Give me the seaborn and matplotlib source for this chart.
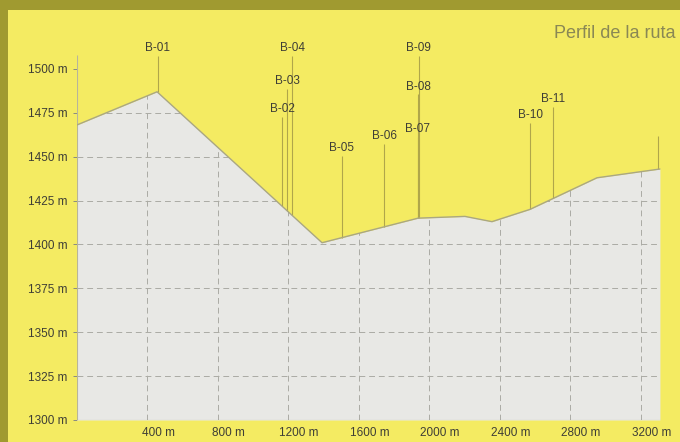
import numpy as np
import matplotlib
matplotlib.use("Agg")
import matplotlib.pyplot as plt
import matplotlib.transforms as mtransforms
from matplotlib.patches import Rectangle
import seaborn as sns

# route profile (distance in m, elevation in m)
dist_m = [0, 457, 1393, 1938, 2204, 2357, 2573, 2953, 3310]
elev_m = [1468, 1487, 1401, 1415, 1416, 1413, 1420, 1438, 1443]

# waypoint markers
mark_names = ["B-01", "B-02", "B-03", "B-04", "B-05", "B-06",
              "B-07", "B-08", "B-09", "B-10", "B-11"]
mark_dist = [460, 1166, 1194, 1223, 1506, 1745, 1935, 1938, 1941, 2573, 2704]
label_elev = [1512, 1477, 1493, 1512, 1455, 1462, 1466, 1490, 1512, 1474, 1483]

x_ticks = [400, 800, 1200, 1600, 2000, 2400, 2800, 3200]
x_labels = ["400 m", "800 m", "1200 m", "1600 m", "2000 m", "2400 m", "2800 m", "3200 m"]
y_ticks = [1300, 1325, 1350, 1375, 1400, 1425, 1450, 1475, 1500]
y_labels = ["1300 m", "1325 m", "1350 m", "1375 m", "1400 m", "1425 m", "1450 m", "1475 m", "1500 m"]

YELLOW = "#f4eb62"
OLIVE = "#a09a30"
GREY = "#e8e8e5"
EDGE = "#aaa782"
GRID = "#ababa4"
MARK = "#b0a64a"
TEXT = "#3e3e36"

sns.set_theme(style="white")
plt.rcParams["font.family"] = ["Liberation Sans", "DejaVu Sans"]

fig = plt.figure(figsize=(6.8, 4.42), dpi=100)
fig.patch.set_facecolor(OLIVE)
fig.patches.append(Rectangle((8 / 680, 0), 1, 432 / 442, transform=fig.transFigure,
                             facecolor=YELLOW, edgecolor="none", zorder=-10))

ax = fig.add_axes([76.5 / 680, 22 / 442, 603.5 / 680, 410 / 442])
ax.set_facecolor("none")
ax.set_xlim(0, 3424)
ax.set_ylim(1300, 1533.6)

# grey area under the profile
fill = ax.fill_between(dist_m, elev_m, 1300, color=GREY, lw=0, zorder=1)
sns.lineplot(x=dist_m, y=elev_m, color=EDGE, lw=1, sort=False, ax=ax, zorder=3)

# dashed grid only inside the grey area
clip = fill.get_paths()[0]
h = ax.hlines(y_ticks[1:-1], 0, dist_m[-1], colors=GRID, linestyles=(0, (6, 4)), lw=0.7, zorder=2)
h.set_clip_path(clip, ax.transData)
v = ax.vlines(x_ticks, 1300, 1500, colors=GRID, linestyles=(0, (6, 4)), lw=0.7, zorder=2)
v.set_clip_path(clip, ax.transData)
ax.hlines(1300, 0, dist_m[-1], colors=GRID, lw=0.8, zorder=2)

# start / end lines
ax.vlines(0, 1300, 1508, colors="#b8b59a", lw=0.8, zorder=2.5)
ax.vlines(dist_m[-1] - 10, elev_m[-1], 1462, colors=MARK, lw=0.8, zorder=2.5)

# waypoint lines and labels
base = np.interp(mark_dist, dist_m, elev_m)
ax.vlines(mark_dist, base, np.array(label_elev) - 4.5, colors=MARK, lw=0.8, zorder=2.5)
for name, d, e in zip(mark_names, mark_dist, label_elev):
    ax.text(d, e, name, ha="center", va="center", fontsize=8.5, color=TEXT, zorder=4)

for s in ax.spines.values():
    s.set_visible(False)
ax.set_xticks(x_ticks, x_labels)
ax.set_yticks(y_ticks, y_labels)
ax.tick_params(axis="x", length=0, pad=5, labelsize=8.5, labelcolor=TEXT)
ax.tick_params(axis="y", left=True, length=3, width=0.7, color="#8a8a80", pad=3.5,
               labelsize=8.5, labelcolor=TEXT)
shift = mtransforms.ScaledTranslation(11 / 100, 0, fig.dpi_scale_trans)
for lbl in ax.get_xticklabels():
    lbl.set_transform(lbl.get_transform() + shift)

fig.text(675 / 680, 1 - 33 / 442, "Perfil de la ruta", ha="right", va="center",
         fontsize=13, color="#8a8854")

fig.savefig("out.png", dpi=100, facecolor=fig.get_facecolor())
